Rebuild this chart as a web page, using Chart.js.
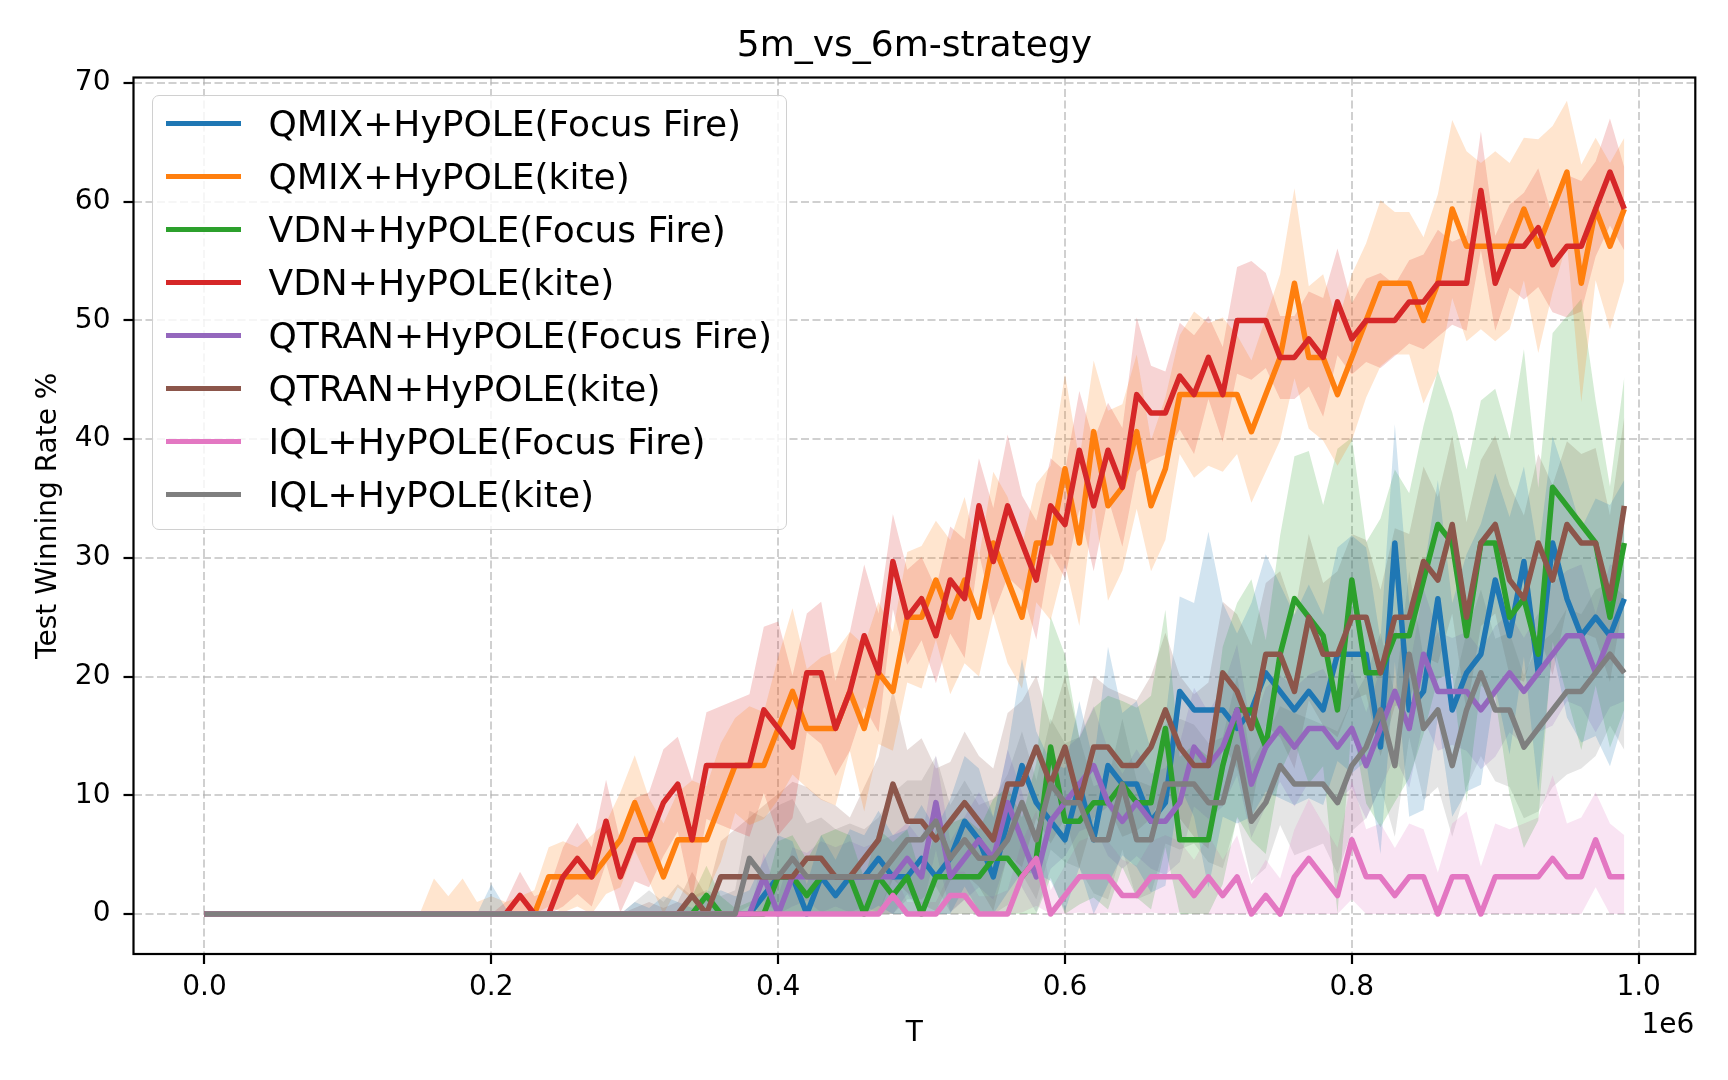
<!DOCTYPE html>
<html>
<head>
<meta charset="utf-8">
<title>5m_vs_6m-strategy</title>
<script src="https://cdn.jsdelivr.net/npm/chart.js@4.4.1/dist/chart.umd.min.js"></script>
<style>
  html, body { margin: 0; padding: 0; background: #ffffff; }
  #wrap { position: relative; width: 1728px; height: 1080px; }
  #legend {
    position: absolute; left: 152px; top: 95px; width: 635px; height: 435px;
    box-sizing: border-box; border: 1.5px solid #d0d0d0; border-radius: 7px;
    background: rgba(255, 255, 255, 0.8);
    font-family: 'DejaVu Sans', sans-serif; font-size: 36px; color: #000;
  }
  .item { position: absolute; left: 0; width: 100%; height: 53px; line-height: 53px; white-space: nowrap; }
  .swatch { position: absolute; left: 12.5px; top: 23.5px; width: 75px; height: 5.5px; }
  .label { position: absolute; left: 115.5px; top: 0; }
</style>
</head>
<body>
<div id="wrap">
  <canvas id="grafico"></canvas>
  <div id="legend"></div>
</div>
<script>
// Eixo T (passos de treino)
const steps = Array.from({ length: 100 }, (_, i) => i * 10000);
const xTicks = [0, 200000, 400000, 600000, 800000, 1000000];
const yTicks = [0, 10, 20, 30, 40, 50, 60, 70];

const seriesNames = [
  "QMIX+HyPOLE(Focus Fire)",
  "QMIX+HyPOLE(kite)",
  "VDN+HyPOLE(Focus Fire)",
  "VDN+HyPOLE(kite)",
  "QTRAN+HyPOLE(Focus Fire)",
  "QTRAN+HyPOLE(kite)",
  "IQL+HyPOLE(Focus Fire)",
  "IQL+HyPOLE(kite)"
];
const seriesColors = ["#1f77b4", "#ff7f0e", "#2ca02c", "#d62728", "#9467bd", "#8c564b", "#e377c2", "#7f7f7f"];

// Médias (Test Winning Rate %)
const qmixFocus = [
  0,0,0,0,0,0,0,0,0,0,
  0,0,0,0,0,0,0,0,0,0,
  0,0,0,0,0,0,0,0,0,0,
  0,0,0,0,0,0,0,0,0,1.56,
  3.13,3.13,0,3.13,1.56,3.13,3.13,4.69,3.13,3.13,
  4.69,3.13,4.69,7.81,6.25,3.13,7.81,12.5,9.38,7.81,
  6.25,10.94,6.25,12.5,10.94,10.94,7.81,9.38,18.75,17.19,
  17.19,17.19,15.63,17.19,20.31,18.75,17.19,18.75,17.19,21.88,
  21.88,21.88,14.06,31.25,17.19,18.75,26.56,17.19,20.31,21.88,
  28.13,23.44,29.69,20.31,31.25,26.56,23.44,25,23.44,26.56
];
const qmixKite = [
  0,0,0,0,0,0,0,0,0,0,
  0,0,0,0,0,0,0,0,0,0,
  0,0,0,0,3.13,3.13,3.13,3.13,4.69,6.25,
  9.38,6.25,3.13,6.25,6.25,6.25,9.38,12.5,12.5,12.5,
  15.63,18.75,15.63,15.63,15.63,18.75,15.63,20.31,18.75,25,
  25,28.13,25,28.13,25,31.25,28.13,25,31.25,31.25,
  37.5,31.25,40.63,34.38,35.94,40.63,34.38,37.5,43.75,43.75,
  43.75,43.75,43.75,40.63,43.75,46.88,53.13,46.88,46.88,43.75,
  46.88,50,53.13,53.13,53.13,50,53.13,59.38,56.25,56.25,
  56.25,56.25,59.38,56.25,59.38,62.5,53.13,59.38,56.25,59.38
];
const vdnFocus = [
  0,0,0,0,0,0,0,0,0,0,
  0,0,0,0,0,0,0,0,0,0,
  0,0,0,0,0,0,0,0,0,0,
  0,0,0,0,0,1.56,0,0,0,0,
  3.13,3.13,1.56,3.13,3.13,3.13,0,3.13,1.56,3.13,
  0,3.13,3.13,3.13,3.13,4.69,4.69,3.13,4.69,14.06,
  7.81,7.81,9.38,9.38,10.94,9.38,9.38,15.63,6.25,6.25,
  6.25,12.5,17.19,17.19,14.06,21.88,26.56,25,23.44,17.19,
  28.13,20.31,20.31,23.44,23.44,28.13,32.81,31.25,23.44,31.25,
  31.25,25,26.56,21.88,35.94,34.38,32.81,31.25,25,31.25
];
const vdnKite = [
  0,0,0,0,0,0,0,0,0,0,
  0,0,0,0,0,0,0,0,0,0,
  0,0,1.56,0,0,3.13,4.69,3.13,7.81,3.13,
  6.25,6.25,9.38,10.94,6.25,12.5,12.5,12.5,12.5,17.19,
  15.63,14.06,20.31,20.31,15.63,18.75,23.44,20.31,29.69,25,
  26.56,23.44,28.13,26.56,34.38,29.69,34.38,31.25,28.13,34.38,
  32.81,39.06,34.38,39.06,35.94,43.75,42.19,42.19,45.31,43.75,
  46.88,43.75,50,50,50,46.88,46.88,48.44,46.88,51.56,
  48.44,50,50,50,51.56,51.56,53.13,53.13,53.13,60.94,
  53.13,56.25,56.25,57.81,54.69,56.25,56.25,59.38,62.5,59.38
];
const qtranFocus = [
  0,0,0,0,0,0,0,0,0,0,
  0,0,0,0,0,0,0,0,0,0,
  0,0,0,0,0,0,0,0,0,0,
  0,0,0,0,0,0,0,0,0,3.13,
  0,3.13,3.13,3.13,3.13,3.13,3.13,3.13,3.13,4.69,
  3.13,9.38,3.13,4.69,6.25,4.69,9.38,6.25,3.13,7.81,
  9.38,10.94,12.5,9.38,7.81,9.38,7.81,7.81,9.38,14.06,
  12.5,14.06,17.19,10.94,14.06,15.63,14.06,15.63,15.63,14.06,
  15.63,12.5,15.63,18.75,15.63,21.88,18.75,18.75,18.75,17.19,
  18.75,20.31,18.75,20.31,21.88,23.44,23.44,20.31,23.44,23.44
];
const qtranKite = [
  0,0,0,0,0,0,0,0,0,0,
  0,0,0,0,0,0,0,0,0,0,
  0,0,0,0,0,0,0,0,0,0,
  0,0,0,0,1.56,0,3.13,3.13,3.13,3.13,
  3.13,3.13,4.69,4.69,3.13,3.13,4.69,6.25,10.94,7.81,
  7.81,6.25,7.81,9.38,7.81,6.25,10.94,10.94,14.06,10.94,
  14.06,9.38,14.06,14.06,12.5,12.5,14.06,17.19,14.06,12.5,
  12.5,20.31,18.75,15.63,21.88,21.88,18.75,25,21.88,21.88,
  25,25,20.31,25,25,29.69,28.13,32.81,25,31.25,
  32.81,28.13,26.56,31.25,28.13,32.81,31.25,31.25,26.56,34.38
];
const iqlFocus = [
  0,0,0,0,0,0,0,0,0,0,
  0,0,0,0,0,0,0,0,0,0,
  0,0,0,0,0,0,0,0,0,0,
  0,0,0,0,0,0,0,0,0,0,
  0,0,0,0,0,0,0,0,1.56,0,
  0,0,1.56,1.56,0,0,0,3.13,4.69,0,
  1.56,3.13,3.13,3.13,1.56,1.56,3.13,3.13,3.13,1.56,
  3.13,1.56,3.13,0,1.56,0,3.13,4.69,3.13,1.56,
  6.25,3.13,3.13,1.56,3.13,3.13,0,3.13,3.13,0,
  3.13,3.13,3.13,3.13,4.69,3.13,3.13,6.25,3.13,3.13
];
const iqlKite = [
  0,0,0,0,0,0,0,0,0,0,
  0,0,0,0,0,0,0,0,0,0,
  0,0,0,0,0,0,0,0,0,0,
  0,0,0,0,0,0,0,0,4.69,3.13,
  3.13,4.69,3.13,3.13,3.13,3.13,3.13,3.13,4.69,6.25,
  6.25,7.81,4.69,6.25,4.69,4.69,6.25,9.38,6.25,10.94,
  9.38,9.38,6.25,6.25,10.94,6.25,6.25,10.94,10.94,10.94,
  9.38,9.38,14.06,7.81,9.38,12.5,10.94,10.94,10.94,9.38,
  12.5,14.06,17.19,12.5,21.88,15.63,17.19,12.5,17.19,20.31,
  17.19,17.19,14.06,15.63,17.19,18.75,18.75,20.31,21.88,20.31
];

// Meia largura das faixas sombreadas
const qmixFocusSpread = [
  0,0,0,0,0,0,0,0,0,0,
  0,0,0,0,0,0,0,0,0,0,
  2.5,0.5,0,0,0,0,0,0,0,0,
  1,0.5,1.5,1,0.5,1.5,2,1.5,2,3,
  3.5,3,2.5,3.5,3,4,3.5,4,3.5,4,
  4.5,4,5,5.5,6,5,6,9,6,5,
  6,7,6.5,10,6,7,6,7,8,9,
  15,9,8,9,10,9,8,9,8,9,
  10,9,9,10,9,10,10,9,10,11,
  9,10,8,10,9,10,9,10,11,10
];
const qmixKiteSpread = [
  0,0,0,0,0,0,0,0,0,0,
  0,0,0,0,0,0,3,1.5,3,1,
  1.5,1,1.5,2,2.5,3,2.5,3.5,3,4,
  4,3.5,4.5,4,5,4.5,5,4,5,4.5,
  6,7,5,6,6.5,5,7,6,5,5.5,
  6,5,6.5,7,5,6,7,6,5,6.5,
  8,7,6,8,7,6.5,5.5,6,5,7,
  6,6.5,5,6,6.5,7,8,6,7,6,
  7,6.5,7,6,6,7,7.5,7.5,8,7,
  8,7,6,9,7,6,10,6,7,6
];
const vdnFocusSpread = [
  0,0,0,0,0,0,0,0,0,0,
  0,0,0,0,0,0,0,0,0,0,
  0,0,0,0,0,0,0,0,0,0,
  0,0,0,0,1.5,2.5,1.5,0.5,1,1.5,
  3,3.5,3,3.5,4,3.5,3,4,4.5,4,
  3,4,4.5,5,4,5,6,5,8,11,
  14,7,8,9,7,8,9,10,7,8,
  7,10,9,11,9,10,12,14,11,22,
  12,11,13,14,12,13,13,11,14,12,
  13,15,21,14,13,16,19,12,11,14
];
const vdnKiteSpread = [
  0,0,0,0,0,0,0,0,0,0,
  0,0,0,0,0,0,0,0,0,0,
  0,1,2,1.5,2,2.5,3,2.5,3.5,3,
  3.5,4,4.5,4,5,4.5,5,5.5,6,7,
  9,6,5,6,4,5,6,5,4,4,
  3.5,4,4.5,5,4,4.5,6,4,5,4,
  4.5,5,5.5,4,5,6.5,4,3.5,4.5,5,
  3.5,4,4.5,5,4,3.5,3.5,4,5,4.5,
  3,3.5,4,3,3.5,4,4.5,3.5,4,5,
  4,3.5,4.5,5,4,6,5.5,4,4.5,3.5
];
const qtranFocusSpread = [
  0,0,0,0,0,0,0,0,0,0,
  0,0,0,0,0,0,0,0,0,0,
  0,0,0,0,0,0,0,0,0,0,
  0,0,0,0,0,0,0,0,0,2,
  1.5,2.5,2,3,2.5,3,2.5,3,3.5,3,
  3,4,3,3.5,4,3.5,4.5,4,3,4,
  4.5,4,5,4.5,4,4.5,4,4.5,5,5,
  4.5,5,5.5,4.5,5,4.5,5,4.5,5,4.5,
  5,4.5,5,5.5,5,5.5,5,4.5,5,5,
  5.5,5,4.5,5,6,5.5,6,5,6,5.5
];
const qtranKiteSpread = [
  0,0,0,0,0,0,0,0,0,0,
  0,0,0,0,0,0,0,0,0,0,
  0,0,0,0,0,0,0,0,0,0,
  0.5,1,0.5,1,2,1.5,3,4,5,6,
  7,8,6,5,6,5,6,7,8,6,
  7,6,5,6,5.5,6,6,7,6,5,
  6,5.5,6,5,6,5.5,6,6.5,6,6,
  7,6,6.5,7,6,7,6.5,7,6,7,
  7,6.5,7,7.5,7,8,7,7.5,8,7,
  7.5,8,7,7.5,8,7,7.5,8,7,7.5
];
const iqlFocusSpread = [
  0,0,0,0,0,0,0,0,0,0,
  0,0,0,0,0,0,0,0,0,0,
  0,0,0,0,0,0,0,0,0,0,
  0,0,0,0,0,0,0,0,0,0,
  0,0,0,0,0,0,0,0,2,1,
  1,1,2,2,1.5,1.5,2,3,4,2,
  2.5,3,3.5,3,3,2.5,3,3.5,3,3,
  3.5,3,3.5,2.5,3,3,4,5,4.5,4,
  5,4,4.5,4,4.5,4,3.5,4.5,5.5,4,
  4.5,4,4.5,5,7,4.5,5,4,4.5,3.5
];
const iqlKiteSpread = [
  0,0,0,0,0,0,0,0,0,0,
  0,0,0,0,0,0,0,0,0,0,
  0,0,0,0,0,0,0,0,0,0,
  1,2,1,2.5,1.5,2,1.5,2,4,5,
  6,5,4.5,5,4,4.5,4,5,5.5,5,
  5,5.5,4.5,5,4.5,5,5.5,6,5,5.5,
  5,5.5,4.5,5,5.5,5,4.5,5,5.5,5,
  5,5.5,6,5,5.5,5,6,5.5,5,6,
  5.5,6,6.5,6,7,6,6.5,6,6.5,7,
  6,6.5,6,7,6.5,7,6.5,7,6,6.5
];

const seriesMeans = [qmixFocus, qmixKite, vdnFocus, vdnKite, qtranFocus, qtranKite, iqlFocus, iqlKite];
const seriesSpreads = [qmixFocusSpread, qmixKiteSpread, vdnFocusSpread, vdnKiteSpread,
                       qtranFocusSpread, qtranKiteSpread, iqlFocusSpread, iqlKiteSpread];

function rgba(hex, a) {
  const n = parseInt(hex.slice(1), 16);
  return `rgba(${(n >> 16) & 255}, ${(n >> 8) & 255}, ${n & 255}, ${a})`;
}

const datasets = [];
// Faixas (desvio) - par inferior/superior
seriesMeans.forEach((mean, k) => {
  const spread = seriesSpreads[k];
  datasets.push({
    data: steps.map((t, i) => ({ x: t, y: Math.max(0, mean[i] - spread[i]) })),
    borderColor: 'rgba(0,0,0,0)', borderWidth: 0, pointRadius: 0, fill: false, order: 20
  });
  datasets.push({
    data: steps.map((t, i) => ({ x: t, y: mean[i] + spread[i] })),
    borderColor: 'rgba(0,0,0,0)', borderWidth: 0, pointRadius: 0,
    fill: '-1', backgroundColor: rgba(seriesColors[k], 0.2), order: 20
  });
});
// Linhas das médias
seriesMeans.forEach((mean, k) => {
  datasets.push({
    label: seriesNames[k],
    data: steps.map((t, i) => ({ x: t, y: mean[i] })),
    borderColor: seriesColors[k],
    borderWidth: 5.5,
    borderJoinStyle: 'round',
    pointRadius: 0,
    tension: 0,
    fill: false,
    order: 7 - k
  });
});

const fontFamily = "'DejaVu Sans', sans-serif";

// Moldura completa + texto de escala "1e6"
const molduraPlugin = {
  id: 'moldura',
  afterDatasetsDraw(chart) {
    const { ctx, chartArea: a } = chart;
    ctx.save();
    ctx.strokeStyle = '#000';
    ctx.lineWidth = 2.2;
    ctx.strokeRect(a.left, a.top, a.right - a.left, a.bottom - a.top);
    ctx.restore();
  },
  afterDraw(chart) {
    const { ctx, chartArea: a } = chart;
    ctx.save();
    ctx.font = "28px " + fontFamily;
    ctx.fillStyle = '#000';
    ctx.textAlign = 'right';
    ctx.textBaseline = 'middle';
    ctx.fillText('1e6', a.right - 1, 1026);
    ctx.restore();
  }
};

const gridOpts = {
  color: 'rgba(176, 176, 176, 0.6)',
  lineWidth: 2,
  drawTicks: true,
  tickLength: 10,
  tickColor: '#000',
  tickWidth: 2.2
};

new Chart(document.getElementById('grafico'), {
  type: 'line',
  data: { datasets: datasets },
  options: {
    responsive: true,
    maintainAspectRatio: false,
    devicePixelRatio: 1,
    animation: false,
    events: [],
    layout: { padding: { left: 0, right: 32.7, top: 0, bottom: 0 } },
    plugins: {
      legend: { display: false },
      tooltip: { enabled: false },
      filler: { propagate: false, drawTime: 'beforeDatasetsDraw' },
      title: {
        display: true,
        fullSize: false,
        text: '5m_vs_6m-strategy',
        color: '#000',
        font: { family: fontFamily, size: 36, weight: 'normal' },
        padding: { top: 24.8, bottom: 9.5 }
      }
    },
    scales: {
      x: {
        type: 'linear',
        min: -49500,
        max: 1039500,
        afterBuildTicks: scale => { scale.ticks = xTicks.map(v => ({ value: v })); },
        afterFit: scale => { scale.height = 126; },
        grid: gridOpts,
        border: { display: false, dash: [8, 3.5] },
        ticks: {
          autoSkip: false,
          maxRotation: 0,
          padding: 7,
          color: '#000',
          font: { family: fontFamily, size: 28 },
          callback: v => (v / 1e6).toFixed(1)
        },
        title: {
          display: true,
          text: 'T',
          color: '#000',
          font: { family: fontFamily, size: 28 },
          padding: { top: 0, bottom: 29.7 }
        }
      },
      y: {
        type: 'linear',
        min: -3.37,
        max: 70.46,
        afterBuildTicks: scale => { scale.ticks = yTicks.map(v => ({ value: v })); },
        afterFit: scale => { scale.width = 133.5; },
        grid: gridOpts,
        border: { display: false, dash: [8, 3.5] },
        ticks: {
          autoSkip: false,
          padding: 13,
          color: '#000',
          font: { family: fontFamily, size: 28 },
          callback: v => String(v)
        },
        title: {
          display: true,
          text: 'Test Winning Rate %',
          color: '#000',
          font: { family: fontFamily, size: 28 },
          padding: { top: 31.5, bottom: 0 }
        }
      }
    }
  },
  plugins: [molduraPlugin]
});

// Legenda em HTML sobre a área do gráfico
const legendBox = document.getElementById('legend');
seriesNames.forEach((name, k) => {
  const item = document.createElement('div');
  item.className = 'item';
  item.style.top = (1 + 53 * k) + 'px';
  const swatch = document.createElement('span');
  swatch.className = 'swatch';
  swatch.style.background = seriesColors[k];
  const label = document.createElement('span');
  label.className = 'label';
  label.textContent = name;
  item.appendChild(swatch);
  item.appendChild(label);
  legendBox.appendChild(item);
});
</script>
</body>
</html>
